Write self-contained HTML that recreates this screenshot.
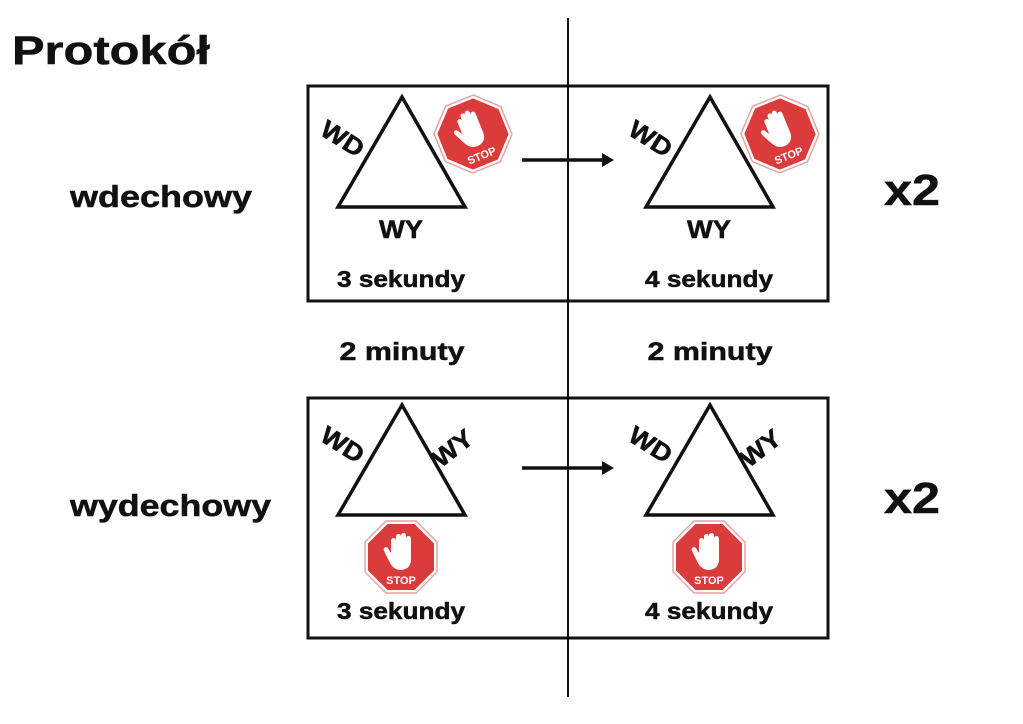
<!DOCTYPE html>
<html><head><meta charset="utf-8"><style>body{margin:0;background:#fff}svg{display:block}text{font-family:"Liberation Sans",sans-serif;font-weight:bold;fill:#111;stroke:#111;stroke-width:0.5}</style></head><body>
<svg width="1023" height="724" viewBox="0 0 1023 724" xmlns="http://www.w3.org/2000/svg">
<defs>
<g id="stop">
<polygon points="-15,-36 15,-36 36,-15 36,15 15,36 -15,36 -36,15 -36,-15" fill="#fff" stroke="#e6a3a3" stroke-width="1.5"/>
<polygon points="-13.5,-33 13.5,-33 33,-13.5 33,13.5 13.5,33 -13.5,33 -33,13.5 -33,-13.5" fill="#dc3b3c"/>
<path d="M-10,-4 L-10,-16 Q-10,-19 -7.5,-19 Q-5,-19 -5,-16 L-5,-20 Q-5,-23 -2.5,-23 Q0,-23 0,-20 L0,-21 Q0,-24 2.5,-24 Q5,-24 5,-21 L5,-18 Q5,-21 7.5,-21 Q10,-21 10,-18 L10,2 Q10,12 0,13 Q-8,13 -12,4 L-17,-6 Q-18,-9 -15.5,-10 Q-13,-10 -12,-7 Z" fill="#fff"/>
<text x="0" y="27" text-anchor="middle" font-size="11" style="fill:#fff;stroke:none">STOP</text>
</g>
</defs>
<line x1="568" y1="18" x2="568" y2="697" stroke="#111" stroke-width="2"/>
<text x="12" y="64" font-size="40" textLength="198" lengthAdjust="spacingAndGlyphs">Protokół</text>
<rect x="308" y="86" width="520" height="215" fill="none" stroke="#111" stroke-width="3"/>
<rect x="308" y="398" width="520" height="240" fill="none" stroke="#111" stroke-width="3"/>
<text x="70" y="207" font-size="31" textLength="182" lengthAdjust="spacingAndGlyphs">wdechowy</text>
<text x="70" y="516" font-size="31" textLength="201" lengthAdjust="spacingAndGlyphs">wydechowy</text>
<text x="884" y="205" font-size="44" textLength="56" lengthAdjust="spacingAndGlyphs">x2</text>
<text x="884" y="513" font-size="44" textLength="56" lengthAdjust="spacingAndGlyphs">x2</text>
<g fill="none" stroke="#111" stroke-width="3.5">
<polygon points="402,97 338,207 465,207"/>
<polygon points="710,97 646,207 773,207"/>
<polygon points="402,405 338,515 465,515"/>
<polygon points="710,405 646,515 773,515"/>
<line x1="522" y1="160" x2="606" y2="160"/>
<line x1="522" y1="468" x2="606" y2="468"/>
</g>
<polygon points="614,160 602,153 602,167" fill="#111"/>
<polygon points="614,468 602,461 602,475" fill="#111"/>
<g font-size="25">
<text x="401" y="238" text-anchor="middle" textLength="44" lengthAdjust="spacingAndGlyphs">WY</text>
<text x="709" y="238" text-anchor="middle" textLength="44" lengthAdjust="spacingAndGlyphs">WY</text>
<text transform="translate(338,146) rotate(32)" text-anchor="middle" textLength="46" lengthAdjust="spacingAndGlyphs">WD</text>
<text transform="translate(646,146) rotate(32)" text-anchor="middle" textLength="46" lengthAdjust="spacingAndGlyphs">WD</text>
<text transform="translate(338,452) rotate(32)" text-anchor="middle" textLength="46" lengthAdjust="spacingAndGlyphs">WD</text>
<text transform="translate(646,452) rotate(32)" text-anchor="middle" textLength="46" lengthAdjust="spacingAndGlyphs">WD</text>
<text transform="translate(458,455) rotate(-38)" text-anchor="middle" textLength="44" lengthAdjust="spacingAndGlyphs">WY</text>
<text transform="translate(766,455) rotate(-38)" text-anchor="middle" textLength="44" lengthAdjust="spacingAndGlyphs">WY</text>
</g>
<g font-size="23" text-anchor="middle">
<text x="401" y="287" textLength="128" lengthAdjust="spacingAndGlyphs">3 sekundy</text>
<text x="709" y="287" textLength="128" lengthAdjust="spacingAndGlyphs">4 sekundy</text>
<text x="401" y="619" textLength="128" lengthAdjust="spacingAndGlyphs">3 sekundy</text>
<text x="709" y="619" textLength="128" lengthAdjust="spacingAndGlyphs">4 sekundy</text>
</g>
<g font-size="25" text-anchor="middle">
<text x="402" y="360" textLength="125" lengthAdjust="spacingAndGlyphs">2 minuty</text>
<text x="710" y="360" textLength="125" lengthAdjust="spacingAndGlyphs">2 minuty</text>
</g>
<use href="#stop" transform="translate(473,134) rotate(-22)"/>
<use href="#stop" transform="translate(780,134) rotate(-22)"/>
<use href="#stop" transform="translate(401,557)"/>
<use href="#stop" transform="translate(709,557)"/>
</svg>
</body></html>
